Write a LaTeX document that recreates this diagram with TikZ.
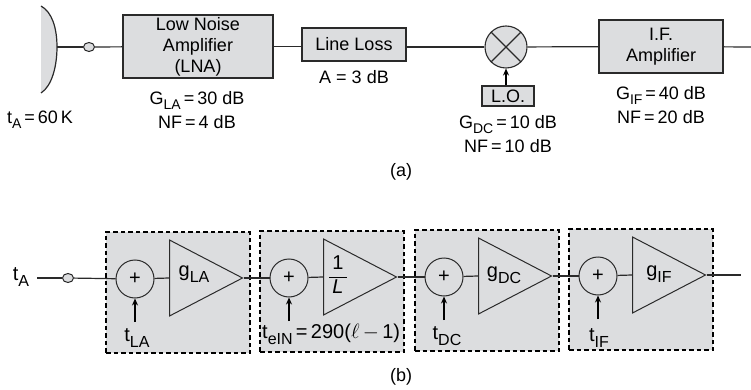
\documentclass[tikz,border=0pt]{standalone}
\usepackage{fontspec}
\usepackage{amsmath}
\usepackage{xcolor}
\usepackage{tikz}
\usetikzlibrary{shapes.geometric,arrows.meta}
\setmainfont{Liberation Sans}
\definecolor{panelgray}{HTML}{DCDDDF}
\definecolor{inkgray}{HTML}{2A2A2A}
\newcommand{\subs}[1]{\raisebox{-0.3em}{\fontsize{14}{14}\selectfont #1}}
\newcommand{\bigsubs}[1]{\raisebox{-0.3em}{\fontsize{16}{16}\selectfont #1}}

\begin{document}
\begin{tikzpicture}[
x=1pt, y=-1pt,
% Style for the grey blocks of the upper chain
block/.style={
rectangle,
draw=inkgray,
fill=panelgray,
line width=1.1pt,
inner sep=0pt,
align=center,
font=\fontsize{18}{21}\selectfont
},
% Plain text labels
label text/.style={
inner sep=0pt,
align=center,
font=\fontsize{18}{24}\selectfont
},
stage text/.style={
inner sep=0pt,
font=\fontsize{20}{24}\selectfont
},
% Dashed stage panels, summers and gain triangles of the lower chain
stage box/.style={
rectangle,
draw=black,
fill=panelgray,
dash pattern=on 4.5pt off 3pt,
line width=1.4pt,
minimum width=144pt,
minimum height=121pt
},
summer/.style={
circle,
draw=inkgray,
line width=1pt,
inner sep=0pt,
minimum size=38pt,
font=\fontsize{20}{20}\selectfont
},
gain/.style={
isosceles triangle,
isosceles triangle apex angle=55,
draw=inkgray,
line width=1pt,
inner sep=0pt,
minimum height=73pt,
anchor=lower side
},
port/.style={
ellipse,
draw=inkgray,
fill=panelgray,
line width=1pt,
inner sep=0pt,
minimum width=11pt,
minimum height=9pt
},
wire/.style={line width=1.2pt, draw=inkgray},
feed/.style={line width=1.4pt, draw=black, -{Stealth[length=7pt,width=6pt]}}
]
\useasboundingbox (0,0) rectangle (751,390);

% Upper chain (a)
\fill[panelgray] (41,6) .. controls (52,12) and (57,28) .. (57,47) .. controls (57,66) and (52,86) .. (41,93) -- cycle;
\draw[wire] (41,6) .. controls (52,12) and (57,28) .. (57,47) .. controls (57,66) and (52,86) .. (41,93);
\coordinate (dish) at (57,47);
\node[port] (porta) at (89,47) {};
\node[block, minimum width=150pt, minimum height=63pt] (lna) at (198,46.5) {Low Noise\\Amplifier\\(LNA)};
\node[block, minimum width=104pt, minimum height=33pt] (loss) at (354,44.5) {Line Loss};
\node[circle, draw=inkgray, fill=panelgray, line width=1.1pt, minimum size=42pt, inner sep=0pt] (mixer) at (506,47) {};
\draw[wire] (mixer.north west) -- (mixer.south east);
\draw[wire] (mixer.north east) -- (mixer.south west);
\node[block, minimum width=52pt, minimum height=20pt] (lo) at (508,96) {L.O.};
\node[block, minimum width=124pt, minimum height=53pt] (ifamp) at (661,46.5) {I.F.\\Amplifier};
\coordinate (outa) at (751,47);

\draw[wire] (dish) -- (porta);
\draw[wire] (porta) -- (lna);
\draw[wire] (lna.east) -- (lna.east -| loss.west);
\draw[wire] (mixer.west -| loss.east) -- (mixer.west);
\draw[wire] (mixer) -- (ifamp);
\draw[wire] (ifamp) -- (outa);
\draw[feed] (lo.north -| mixer) -- (mixer.south);

\node[label text] (tasrc) at (40,120) {t\subs{A}\,=\,60\,K};
\node[label text] (lnatxt) at (197,110) {G\subs{LA}\,=\,30 dB\\NF\,=\,4 dB};
\node[label text] (losstxt) at (354,77) {A = 3 dB};
\node[label text] (dctxt) at (508,134) {G\subs{DC}\,=\,10 dB\\NF\,=\,10 dB};
\node[label text] (iftxt) at (661,105) {G\subs{IF}\,=\,40 dB\\NF\,=\,20 dB};
\node[label text] (capa) at (401,172) {(a)};

% Lower chain (b): one dashed panel per stage
\foreach \i/\x/\y in {1/135/279, 2/289/278, 3/444/277, 4/598/276} {
\node[stage box] (box\i) at (\x+43,\y+13.5) {};
\node[summer] (sum\i) at (\x,\y) {+};
\node[gain] (tri\i) at (\x+34,\y-1) {};
\coordinate (tail\i) at (\x,\y+43);
\draw[wire] (sum\i) -- (tri\i.lower side);
\draw[feed] (tail\i) -- (sum\i);
}

\node[stage text] (tin) at (21,277) {t\bigsubs{A}};
\coordinate (inb) at (37,278);
\node[port] (portb) at (68,278) {};
\coordinate (outb) at (741,275);

\draw[wire] (inb) -- (portb);
\draw[wire] (portb) -- (sum1);
\draw[wire] (tri1.apex) -- (sum2);
\draw[wire] (tri2.apex) -- (sum3);
\draw[wire] (tri3.apex) -- (sum4);
\draw[wire] (tri4.apex) -- (outb);

\node[stage text] (g1) at (194,274) {g\bigsubs{LA}};
\node[inner sep=0pt, font=\fontsize{20}{23}\selectfont] (g2) at (338,277) {\begin{tabular}{@{\,}c@{\,}}1\\\hline\textit{L}\end{tabular}};
\node[stage text] (g3) at (504,275) {g\bigsubs{DC}};
\node[stage text] (g4) at (659,274) {g\bigsubs{IF}};

\node[stage text] (t1) at (137,338) {t\bigsubs{LA}};
\node[stage text, anchor=west] (t2) at (262,334) {t\bigsubs{eIN}\,=\,290($\ell$\,$-$\,1)};
\node[stage text] (t3) at (447,336) {t\bigsubs{DC}};
\node[stage text] (t4) at (599,338) {t\bigsubs{IF}};
\node[label text] (capb) at (401,377) {(b)};

\end{tikzpicture}
\end{document}
